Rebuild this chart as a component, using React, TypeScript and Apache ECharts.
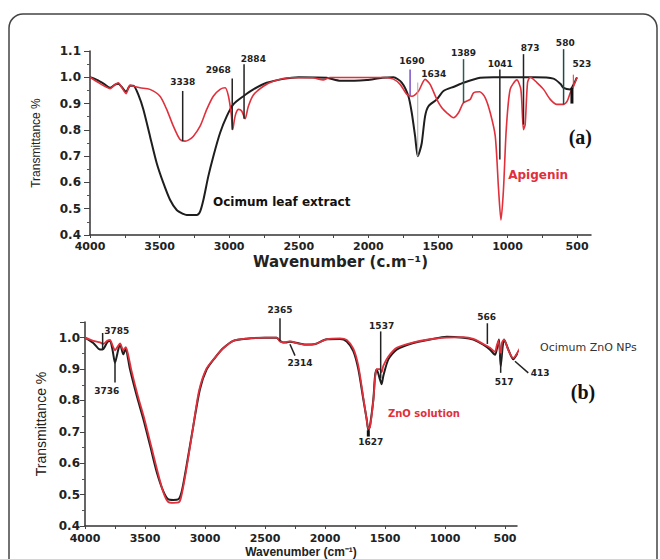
import React, { useEffect, useRef } from "react";
import * as echarts from "echarts";

// ---------- Panel (a) data: wavenumber (cm-1), transmittance ----------
const leafExtractA: number[][] = [
  [4000, 1.0], [3950, 0.99], [3900, 0.975], [3856, 0.96], [3820, 0.972], [3797, 0.975],
  [3770, 0.962], [3741, 0.945], [3712, 0.968], [3688, 0.968], [3650, 0.93], [3617, 0.878],
  [3569, 0.776], [3521, 0.674], [3473, 0.598], [3425, 0.534], [3377, 0.495], [3330, 0.48],
  [3305, 0.476], [3233, 0.476], [3209, 0.489], [3185, 0.534], [3150, 0.623], [3114, 0.699],
  [3065, 0.789], [3017, 0.852], [2970, 0.897], [2898, 0.928], [2826, 0.954], [2730, 0.979],
  [2610, 0.994], [2500, 1.0], [2300, 0.998], [2200, 0.987], [2100, 0.987], [2010, 0.99],
  [1900, 0.998], [1820, 1.0], [1760, 0.98], [1712, 0.928], [1688, 0.865], [1664, 0.776],
  [1645, 0.7], [1630, 0.72], [1616, 0.75], [1592, 0.852], [1568, 0.89], [1508, 0.916],
  [1460, 0.948], [1380, 0.965], [1316, 0.979], [1197, 0.998], [1100, 1.0], [800, 1.0],
  [670, 0.995], [620, 0.975], [597, 0.96], [549, 0.954], [525, 0.973], [501, 1.0],
];

const apigeninA: number[][] = [
  [4000, 1.0], [3928, 0.976], [3880, 0.962], [3856, 0.957], [3820, 0.972], [3797, 0.979],
  [3770, 0.96], [3741, 0.938], [3712, 0.97], [3680, 0.965], [3641, 0.96], [3569, 0.954],
  [3497, 0.928], [3449, 0.878], [3401, 0.814], [3353, 0.763], [3317, 0.757], [3290, 0.762],
  [3257, 0.776], [3209, 0.814], [3161, 0.878], [3114, 0.928], [3065, 0.954], [3029, 0.96],
  [3005, 0.928], [2985, 0.86], [2974, 0.801], [2962, 0.84], [2950, 0.865], [2934, 0.878],
  [2910, 0.872], [2886, 0.842], [2862, 0.89], [2826, 0.933], [2754, 0.966], [2682, 0.985],
  [2562, 0.998], [2400, 0.998], [2325, 0.99], [2275, 0.999], [1880, 0.999], [1820, 0.993],
  [1771, 0.973], [1723, 0.935], [1687, 0.928], [1640, 0.947], [1592, 0.992], [1556, 0.973],
  [1508, 0.916], [1472, 0.884], [1436, 0.865], [1388, 0.846], [1352, 0.865], [1316, 0.903],
  [1268, 0.916], [1244, 0.941], [1200, 0.945], [1160, 0.922], [1124, 0.865], [1088, 0.776],
  [1064, 0.572], [1047, 0.457], [1029, 0.572], [1009, 0.801], [981, 0.954], [933, 0.99],
  [904, 0.954], [885, 0.801], [873, 0.82], [856, 0.98], [837, 1.0], [789, 0.98],
  [741, 0.954], [693, 0.916], [645, 0.897], [597, 0.897], [570, 0.91], [549, 0.941],
  [525, 0.966], [501, 0.999],
];

// ---------- Panel (b) data ----------
const znoNPsB: number[][] = [
  [4000, 1.0], [3931, 0.983], [3875, 0.962], [3847, 0.964], [3815, 0.985], [3792, 0.99],
  [3770, 0.96], [3750, 0.92], [3730, 0.95], [3708, 0.98], [3681, 0.947], [3660, 0.965],
  [3640, 0.93], [3625, 0.899], [3569, 0.815], [3514, 0.741], [3458, 0.657], [3403, 0.573],
  [3347, 0.51], [3306, 0.485], [3264, 0.483], [3222, 0.485], [3194, 0.51], [3153, 0.594],
  [3097, 0.72], [3042, 0.836], [2986, 0.899], [2917, 0.936], [2847, 0.967], [2764, 0.99],
  [2653, 0.997], [2500, 1.0], [2403, 1.0], [2375, 0.99], [2350, 0.985], [2320, 0.985],
  [2292, 0.987], [2220, 0.982], [2153, 0.978], [2080, 0.98], [1986, 0.995], [1875, 0.996],
  [1819, 0.988], [1764, 0.957], [1722, 0.899], [1681, 0.804], [1653, 0.741], [1639, 0.705],
  [1625, 0.72], [1597, 0.804], [1583, 0.878], [1569, 0.899], [1542, 0.867], [1528, 0.852],
  [1514, 0.878], [1472, 0.931], [1403, 0.962], [1264, 0.983], [1125, 0.994], [986, 1.003],
  [847, 1.0], [764, 0.994], [681, 0.978], [625, 0.962], [583, 0.946], [569, 0.962],
  [550, 0.994], [536, 0.909], [519, 0.973], [508, 0.994], [472, 0.962], [431, 0.931],
  [403, 0.946], [361, 0.973], [319, 0.988],
];

const znoSolutionB: number[][] = [
  [4000, 1.0], [3931, 0.99], [3875, 0.985], [3847, 0.98], [3815, 0.99], [3792, 0.993],
  [3770, 0.975], [3750, 0.96], [3730, 0.97], [3708, 0.982], [3681, 0.96], [3660, 0.97],
  [3640, 0.945], [3615, 0.899], [3560, 0.815], [3505, 0.741], [3450, 0.657], [3395, 0.573],
  [3345, 0.505], [3310, 0.478], [3264, 0.474], [3220, 0.475], [3200, 0.49], [3160, 0.57],
  [3105, 0.7], [3050, 0.83], [2990, 0.9], [2920, 0.935], [2850, 0.965], [2764, 0.99],
  [2653, 0.997], [2500, 1.0], [2403, 1.0], [2375, 0.988], [2350, 0.985], [2320, 0.987],
  [2292, 0.988], [2220, 0.981], [2153, 0.977], [2080, 0.98], [1986, 0.995], [1875, 0.998],
  [1819, 0.993], [1764, 0.965], [1722, 0.91], [1681, 0.81], [1653, 0.74], [1639, 0.71],
  [1625, 0.715], [1597, 0.8], [1583, 0.87], [1569, 0.9], [1542, 0.9], [1528, 0.89],
  [1514, 0.91], [1472, 0.94], [1403, 0.968], [1264, 0.985], [1125, 0.995], [986, 1.0],
  [847, 1.002], [764, 0.996], [681, 0.98], [625, 0.968], [583, 0.955], [569, 0.975],
  [555, 0.99], [536, 0.94], [525, 0.985], [508, 0.994], [472, 0.96], [431, 0.935],
  [403, 0.948], [361, 0.975], [319, 0.99],
];

// ---------- Axis ticks ----------
const xLabelValues = [4000, 3500, 3000, 2500, 2000, 1500, 1000, 500];
const xTickValues = [4000, 3750, 3500, 3250, 3000, 2750, 2500, 2250, 2000, 1750, 1500, 1250, 1000, 750, 500];

// ---------- Peak marker lines: [w1, t1, w2, t2, colour, width] ----------
const peakLinesA: any[][] = [
  [3334, 0.757, 3334, 0.948, "#222", 1.5],
  [2978, 0.8, 2978, 0.995, "#222", 1.5],
  [2893, 0.842, 2893, 1.05, "#222", 1.5],
  [1700, 0.93, 1700, 1.03, "#7a4fc4", 1.5],
  [1645, 0.7, 1645, 0.98, "#aaaaaa", 1],
  [1316, 0.903, 1316, 1.069, "#2d5a52", 1.5],
  [1055, 0.687, 1055, 1.03, "#222", 1.5],
  [885, 0.82, 885, 1.088, "#222", 1.5],
  [597, 0.897, 597, 1.107, "#1e4a48", 1.5],
  [537, 0.9, 537, 0.96, "#111", 3],
  [527, 0.97, 527, 1.01, "#e0303c", 1],
];
// ---------- Peak labels: [text, w, t, align] ----------
const peakLabelsA: any[][] = [
  ["3338", 3334, 0.983, "center"],
  ["2968", 3078, 1.028, "center"],
  ["2884", 2826, 1.071, "center"],
  ["1690", 1687, 1.062, "center"],
  ["1634", 1620, 1.011, "left"],
  ["1389", 1316, 1.094, "center"],
  ["1041", 1052, 1.05, "center"],
  ["873", 837, 1.11, "center"],
  ["580", 585, 1.13, "center"],
  ["523", 465, 1.05, "center"],
];
const curveNamesA: any[][] = [
  ["Ocimum leaf extract", 3116, 0.526, "left", "#111", 'bold 12px "DejaVu Sans"'],
  ["Apigenin", 995, 0.629, "left", "#e0303c", 'bold 12px "DejaVu Sans"'],
  ["(a)", 477, 0.774, "center", "#111", 'bold 20px "Liberation Serif"'],
];

const peakLinesB: any[][] = [
  [3853, 0.962, 3853, 1.015, "#222", 1.5],
  [3750, 0.92, 3750, 0.857, "#222", 1.5],
  [2375, 0.99, 2375, 1.062, "#222", 1.5],
  [2292, 0.979, 2250, 0.943, "#222", 1.5],
  [1536, 0.87, 1536, 1.02, "#222", 1.5],
  [1639, 0.705, 1639, 0.685, "#111", 3],
  [647, 0.98, 647, 1.046, "#222", 1.5],
  [536, 0.95, 536, 0.888, "#222", 1.5],
  [417, 0.925, 306, 0.888, "#222", 1.5],
];
const peakLabelsB: any[][] = [
  ["3785", 3840, 1.02, "left"],
  ["3736", 3819, 0.83, "center"],
  ["2365", 2375, 1.088, "center"],
  ["2314", 2208, 0.92, "center"],
  ["1537", 1528, 1.038, "center"],
  ["1627", 1619, 0.667, "center"],
  ["566", 653, 1.065, "center"],
  ["517", 508, 0.859, "center"],
  ["413", 208, 0.888, "center"],
];
const curveNamesB: any[][] = [
  ["Ocimum ZnO NPs", 208, 0.968, "left", "#333", '11px "DejaVu Sans"'],
  ["ZnO solution", 1475, 0.76, "left", "#e0303c", 'bold 10px "DejaVu Sans"'],
  ["(b)", -150, 0.826, "center", "#111", 'bold 20px "Liberation Serif"'],
];

const RED = "#e0303c";
const BLACK = "#1e1e1e";

function lineSeries(idx: number, lines: any[][]) {
  return {
    type: "custom",
    xAxisIndex: idx,
    yAxisIndex: idx,
    clip: false,
    silent: true,
    z: 5,
    data: lines.map((l) => [l[0], l[1], l[2], l[3]]),
    encode: { x: [0, 2], y: [1, 3] },
    renderItem: (params: any, api: any) => {
      const src = lines[params.dataIndex];
      const p1 = api.coord([api.value(0), api.value(1)]);
      const p2 = api.coord([api.value(2), api.value(3)]);
      return {
        type: "line",
        shape: { x1: p1[0], y1: p1[1], x2: p2[0], y2: p2[1] },
        style: { stroke: src[4], lineWidth: src[5] },
      };
    },
  };
}

function textSeries(idx: number, labels: any[][], defColor: string, defFont: string) {
  return {
    type: "custom",
    xAxisIndex: idx,
    yAxisIndex: idx,
    clip: false,
    silent: true,
    z: 6,
    data: labels.map((l) => [l[1], l[2]]),
    renderItem: (params: any, api: any) => {
      const src = labels[params.dataIndex];
      const p = api.coord([api.value(0), api.value(1)]);
      return {
        type: "text",
        x: p[0],
        y: p[1],
        style: {
          text: src[0],
          fill: src[4] || defColor,
          font: src[5] || defFont,
          align: src[3],
          verticalAlign: "middle",
        },
      };
    },
  };
}

function xAxisCfg(gridIndex: number, name: string, labelSize: number, labelMargin: number, nameFont: any, nameGap: number) {
  return {
    type: "value",
    gridIndex,
    inverse: true,
    min: 400,
    max: 4000,
    name,
    nameLocation: "middle",
    nameGap,
    nameTextStyle: nameFont,
    splitLine: { show: false },
    axisLine: { show: true, onZero: false, lineStyle: { color: "#333", width: 1.5 } },
    axisTick: { show: true, length: 3, customValues: xTickValues, lineStyle: { color: "#444" } },
    axisLabel: {
      customValues: xLabelValues,
      formatter: (v: number) => String(Math.round(v)),
      color: "#222",
      fontFamily: "DejaVu Sans",
      fontWeight: "bold",
      fontSize: labelSize,
      margin: labelMargin,
    },
  };
}

function yAxisCfg(gridIndex: number, max: number, nameFont: any, nameGap: number, tickLen: number, margin: number) {
  return {
    type: "value",
    gridIndex,
    min: 0.4,
    max,
    interval: 0.1,
    name: "Transmittance %",
    nameLocation: "middle",
    nameGap,
    nameTextStyle: nameFont,
    splitLine: { show: false },
    axisLine: { show: true, onZero: false, lineStyle: { color: "#333", width: 1.5 } },
    axisTick: { show: true, length: tickLen, lineStyle: { color: "#444" } },
    minorTick: { show: true, splitNumber: 2, length: 3, lineStyle: { color: "#555" } },
    axisLabel: {
      showMaxLabel: max === 1.1,
      formatter: (v: number) => v.toFixed(1),
      color: "#222",
      fontFamily: "DejaVu Sans",
      fontWeight: "bold",
      fontSize: 12,
      margin,
    },
  };
}

export default function App() {
  const ref = useRef<HTMLDivElement>(null);
  useEffect(() => {
    document.body.style.margin = "0";
    const chart = echarts.init(ref.current!, null, { renderer: "svg" });
    chart.setOption({
      animation: false,
      backgroundColor: "#ffffff",
      grid: [
        { left: 90, right: 69, top: 51, bottom: 324 },
        { left: 85, right: 143, top: 322, bottom: 31 },
      ],
      xAxis: [
        xAxisCfg(0, "Wavenumber (c.m⁻¹)", 11, 6,
          { fontFamily: "DejaVu Sans", fontWeight: "bold", fontSize: 15, color: "#222" }, 19),
        xAxisCfg(1, "Wavenumber (cm⁻¹)", 11, 7,
          { fontFamily: "Liberation Sans", fontWeight: "bold", fontSize: 12, color: "#222" }, 20),
      ],
      yAxis: [
        yAxisCfg(0, 1.1, { fontFamily: '"Liberation Sans Narrow", "Liberation Sans"', fontSize: 12, color: "#222" }, 48, 6, 9),
        yAxisCfg(1, 1.05, { fontFamily: "Liberation Sans", fontSize: 14, color: "#222" }, 31, 5, 5),
      ],
      graphic: [
        {
          type: "rect",
          shape: { x: 9, y: 14, width: 648, height: 580, r: 14 },
          style: { fill: "none", stroke: "#444", lineWidth: 1.5 },
          z: 0,
        },
      ],
      series: [
        {
          type: "line", xAxisIndex: 0, yAxisIndex: 0, data: leafExtractA,
          showSymbol: false, smooth: 0.25, clip: false,
          lineStyle: { color: BLACK, width: 2 }, z: 2,
        },
        {
          type: "line", xAxisIndex: 0, yAxisIndex: 0, data: apigeninA,
          showSymbol: false, smooth: 0.25, clip: false,
          lineStyle: { color: RED, width: 1.6 }, z: 3,
        },
        {
          type: "line", xAxisIndex: 1, yAxisIndex: 1, data: znoNPsB,
          showSymbol: false, smooth: 0.25, clip: false,
          lineStyle: { color: BLACK, width: 2 }, z: 2,
        },
        {
          type: "line", xAxisIndex: 1, yAxisIndex: 1, data: znoSolutionB,
          showSymbol: false, smooth: 0.25, clip: false,
          lineStyle: { color: RED, width: 1.8 }, z: 3,
        },
        lineSeries(0, peakLinesA),
        textSeries(0, peakLabelsA, "#222", 'bold 9px "DejaVu Sans"'),
        textSeries(0, curveNamesA, "#222", 'bold 12px "DejaVu Sans"'),
        lineSeries(1, peakLinesB),
        textSeries(1, peakLabelsB, "#222", 'bold 9px "DejaVu Sans"'),
        textSeries(1, curveNamesB, "#222", '11px "DejaVu Sans"'),
      ],
    });
    return () => chart.dispose();
  }, []);
  return <div ref={ref} style={{ width: 660, height: 559 }} />;
}
